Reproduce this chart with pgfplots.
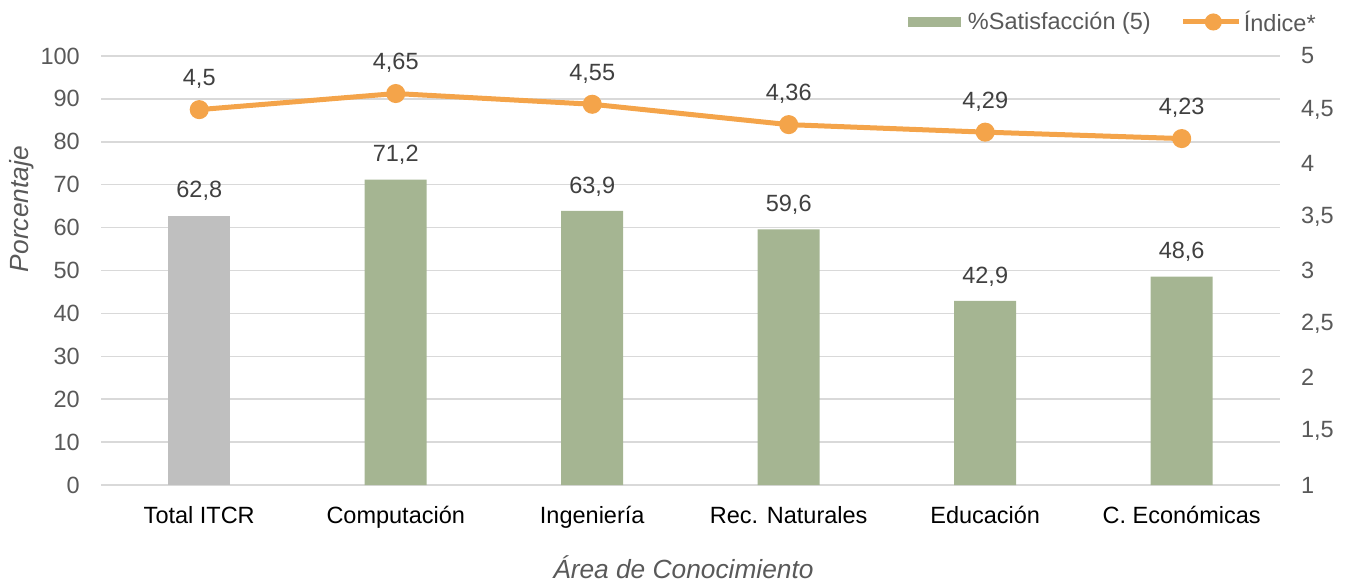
\documentclass[border=0pt]{standalone}
\usepackage{fontspec}
\setmainfont{Liberation Sans}
\usepackage{pgfplots}
\pgfplotsset{compat=1.18}
\definecolor{bargreen}{HTML}{A5B592}
\definecolor{bargray}{HTML}{BFBFBF}
\definecolor{lineorange}{HTML}{F4A44A}
\definecolor{gridgray}{HTML}{D9D9D9}
\definecolor{ticktext}{HTML}{595959}
\definecolor{labeltext}{HTML}{404040}
\pgfplotsset{/pgf/number format/.cd, use comma, 1000 sep={}, assume math mode=true}
\begin{document}
\begin{tikzpicture}[font=\fontsize{23.5}{28}\selectfont]
\path[use as bounding box] (0,0) rectangle (1346pt,584pt);
\begin{axis}[
  at={(101pt,99pt)}, anchor=south west,
  scale only axis, width=1179pt, height=429pt,
  xmin=-0.5, xmax=5.5, ymin=0, ymax=100,
  xtick={0,...,5},
  xticklabels={Total ITCR, Computación, Ingeniería, Rec. Naturales, Educación, C. Económicas},
  ytick={0,10,...,100},
  axis line style={draw=none},
  major tick length=0pt,
  ymajorgrids, grid style={gridgray, line width=1.5pt},
  xticklabel style={anchor=base, yshift=-38.5pt, inner sep=0pt, text=black},
  yticklabel style={anchor=east, xshift=-21pt, inner sep=0pt, text=ticktext},
  xlabel={\fontsize{26.3}{30}\selectfont\itshape Área de Conocimiento},
  xlabel style={at={(axis description cs:0.494,-0.191)}, anchor=center, text=ticktext},
  ylabel={\fontsize{26.3}{30}\selectfont\itshape Porcentaje},
  ylabel style={at={(axis description cs:-0.0675,0.643)}, anchor=center, text=ticktext},
  clip=false,
]
\addplot[ybar, bar width=62pt, bar shift=0pt, fill=bargray, draw=none,
  nodes near coords, every node near coord/.append style={anchor=base, yshift=17.6pt, inner sep=0pt, text=labeltext}]
  coordinates {(0,62.8)};
\addplot[ybar, bar width=62pt, bar shift=0pt, fill=bargreen, draw=none,
  nodes near coords, every node near coord/.append style={anchor=base, yshift=17.6pt, inner sep=0pt, text=labeltext}]
  coordinates {(1,71.2) (2,63.9) (3,59.6) (4,42.9) (5,48.6)};
\end{axis}
\begin{axis}[
  at={(101pt,99pt)}, anchor=south west,
  scale only axis, width=1179pt, height=429pt,
  xmin=-0.5, xmax=5.5, ymin=1, ymax=5,
  ytick={1,1.5,2,2.5,3,3.5,4,4.5,5},
  axis y line*=right, axis x line=none,
  axis line style={draw=none},
  major tick length=0pt,
  yticklabel style={anchor=west, xshift=21pt, inner sep=0pt, text=ticktext},
  clip=false,
  legend columns=2,
  legend cell align=left,
  legend style={draw=none, fill=none, at={(axis description cs:1.0322,1.0793)}, anchor=east, inner sep=0pt,
    /tikz/every even column/.append style={column sep=28pt}},
]
\addlegendimage{legend image code/.code={\fill[bargreen] (0pt,-4.7pt) rectangle (52pt,4.7pt); \path (58pt,0pt);}}
\addlegendentry{\textcolor{ticktext}{\%Satisfacción (5)}}
\addplot[lineorange, line width=5pt, mark=*, mark size=7pt, mark options={draw=none, fill=lineorange},
  nodes near coords, every node near coord/.append style={anchor=base, yshift=24pt, inner sep=0pt, text=labeltext},
  legend image code/.code={\draw[lineorange, line width=5pt] (0pt,0pt)--(56pt,0pt); \fill[lineorange] (30pt,0pt) circle (6pt);}]
  coordinates {(0,4.5) (1,4.65) (2,4.55) (3,4.36) (4,4.29) (5,4.23)};
\addlegendentry{\textcolor{ticktext}{Índice*}}
\end{axis}
\end{tikzpicture}
\end{document}
